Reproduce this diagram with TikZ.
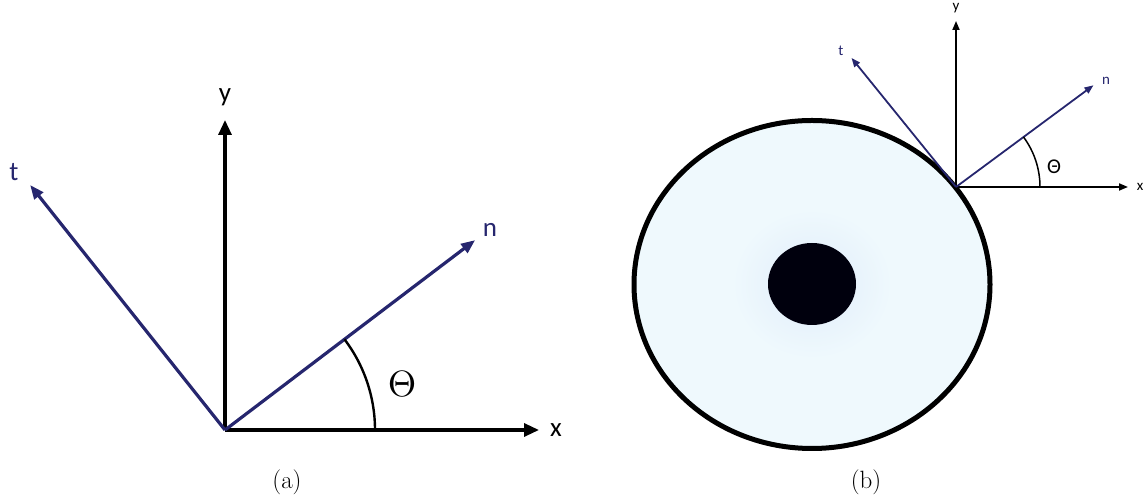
\documentclass[tikz,border=0pt]{standalone}
\usepackage{fontspec}
\newfontfamily\lab{Carlito}
\usetikzlibrary{arrows.meta,calc}
\definecolor{navy}{RGB}{38,38,110}
\definecolor{disc}{RGB}{239,249,253}
\definecolor{halo}{RGB}{224,236,250}
\begin{document}
\begin{tikzpicture}[x=1pt,y=1pt,
  axisA/.style={line width=3.2pt,-{Triangle[length=15pt,width=13pt]}},
  vecA/.style={navy,line width=3.2pt,-{Triangle[length=14pt,width=11pt]}},
  axisB/.style={line width=1.8pt,-{Triangle[length=9pt,width=7pt]}},
  vecB/.style={navy,line width=1.8pt,-{Triangle[length=9pt,width=7pt]}},
  labA/.style={inner sep=0pt,font=\lab\fontsize{27}{27}\selectfont},
  labB/.style={inner sep=0pt,font=\lab\fontsize{15}{15}\selectfont},
  capt/.style={inner sep=0pt,font=\fontsize{25}{25}\selectfont}]
\useasboundingbox (0,0) rectangle (1146,502);
% ---------- panel (a)
\coordinate (Oa) at (225,72);
\coordinate (ya) at (225,382);
\coordinate (xa) at (539,72);
\coordinate (ta) at ($(Oa)+(128.5:313)$);
\coordinate (na) at ($(Oa)+(37.2:314)$);
\draw[axisA] (Oa) -- (ya);
\draw[axisA] (Oa) -- (xa);
\draw[vecA] (Oa) -- (ta);
\draw[vecA] (Oa) -- (na);
\draw[line width=2.4pt] ($(Oa)+(0:150)$) arc[start angle=0,end angle=37.2,radius=150];
\node[labA] (lya) at (225,405) {y};
\node[labA] (lxa) at (556,72) {x};
\node[labA,text=navy] (lta) at (14,330) {t};
\node[labA,text=navy] (lna) at (490,272) {n};
\node[inner sep=0pt] (tha) at (402,118) {\resizebox{!}{25pt}{$\Theta$}};
\node[capt] (capa) at (287,20) {(a)};
% ---------- panel (b)
\fill[disc] (812,217.5) ellipse[x radius=178,y radius=164];
\shade[inner color=halo,outer color=disc] (812,218) ellipse[x radius=80,y radius=75];
\draw[line width=5pt] (812,217.5) ellipse[x radius=178,y radius=164];
\fill[black!95!blue] (812,218) ellipse[x radius=44,y radius=41];
\coordinate (Ob) at (956,315);
\coordinate (yb) at (956,481);
\coordinate (xb) at (1128,315);
\coordinate (tb) at ($(Ob)+(129:166)$);
\coordinate (nb) at ($(Ob)+(36.5:171)$);
\draw[axisB] (Ob) -- (yb);
\draw[axisB] (Ob) -- (xb);
\draw[vecB] (Ob) -- (tb);
\draw[vecB] (Ob) -- (nb);
\draw[line width=1.5pt] ($(Ob)+(0:84)$) arc[start angle=0,end angle=36.5,radius=84];
\node[labB] (lyb) at (956,494) {y};
\node[labB] (lxb) at (1140,315) {x};
\node[labB,text=navy] (ltb) at (841,451) {t};
\node[labB,text=navy] (lnb) at (1106,421) {n};
\node[inner sep=0pt,font=\lab\fontsize{21}{21}\selectfont] (thb) at (1054,335) {Θ};
\node[capt] (capb) at (866,20) {(b)};
\end{tikzpicture}
\end{document}
